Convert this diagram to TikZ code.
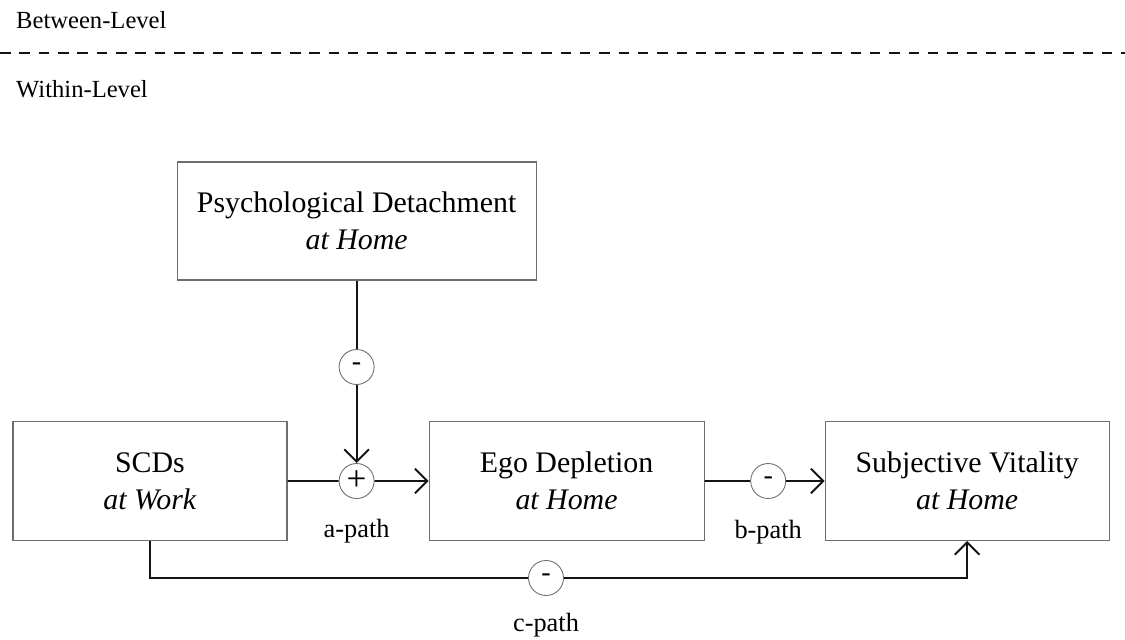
\documentclass[tikz,border=0pt]{standalone}
\usepackage{fontspec}
\setmainfont{Liberation Serif}
\usetikzlibrary{arrows.meta, positioning, calc}
\definecolor{boxgray}{RGB}{110,110,110}
\definecolor{linedark}{RGB}{20,20,20}
\tikzset{
  varbox/.style={rectangle, draw=boxgray, line width=0.6pt,
    minimum height=2.38cm, align=center, inner sep=0pt,
    font=\fontsize{17}{21}\selectfont},
  signnode/.style={circle, draw=boxgray, fill=white, line width=0.5pt,
    minimum size=0.7cm, inner sep=0pt, font=\fontsize{16}{16}\selectfont},
  arrow/.style={-{Straight Barb[length=7pt,width=14pt]}, line width=1.1pt, color=linedark},
  line/.style={line width=1.1pt, color=linedark},
  pathlabel/.style={font=\fontsize{15}{15}\selectfont},
  levellabel/.style={anchor=west, font=\fontsize{14}{14}\selectfont}
}
\begin{document}
\begin{tikzpicture}
  \useasboundingbox (0,0) rectangle (22.5,-12.78);

  % Levels
  \node[levellabel] (between) at (0.2,-0.4) {Between-Level};
  \node[levellabel] (within) at (0.2,-1.78) {Within-Level};
  \coordinate (sepl) at (0,-1.06);
  \coordinate (sepr) at (22.5,-1.06);
  \draw[dashed, dash pattern=on 6pt off 5pt, line width=0.7pt, color=linedark] (sepl) -- (sepr);

  % Variables
  \node[varbox, minimum width=5.48cm] (scd) at (3.0,-9.62) {SCDs\\\textit{at Work}};
  \node[varbox, minimum width=5.5cm, right=2.82cm of scd] (ego) {Ego Depletion\\\textit{at Home}};
  \node[varbox, minimum width=5.68cm, right=2.4cm of ego] (subj) {Subjective Vitality\\\textit{at Home}};
  \coordinate (amid) at ($(scd.east)!0.49!(ego.west)$);
  \node[varbox, minimum width=7.18cm, minimum height=2.36cm] (psych) at ($(amid)+(0,5.2)$) {Psychological Detachment\\\textit{at Home}};

  % Signs
  \node[signnode, font=\fontsize{20}{20}\selectfont] (asign) at (amid) {+};
  \node[signnode] (msign) at ($(amid)+(0,2.28)$) {-};
  \node[signnode] (bsign) at ($(ego.east)!0.53!(subj.west)$) {-};
  \node[signnode] (csign) at (10.92,-11.56) {-};

  % Paths
  \draw[line] (psych) -- (msign);
  \draw[arrow] (msign) -- (asign);
  \draw[line] (scd) -- (asign);
  \draw[arrow] (asign) -- (ego);
  \draw[line] (ego) -- (bsign);
  \draw[arrow] (bsign) -- (subj);
  \draw[line] (scd.south) |- (csign);
  \draw[arrow] (csign) -| (subj.south);

  % Path labels
  \node[pathlabel, below=0.28cm of asign] (alabel) {a-path};
  \node[pathlabel, below=0.3cm of bsign] (blabel) {b-path};
  \node[pathlabel] (clabel) at ($(csign)+(0,-0.94)$) {c-path};
\end{tikzpicture}
\end{document}
